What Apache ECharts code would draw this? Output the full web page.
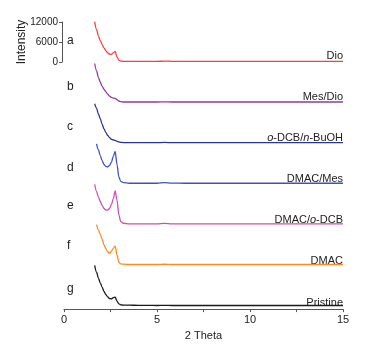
<!DOCTYPE html>
<html>
<head>
<meta charset="utf-8">
<script src="https://cdn.jsdelivr.net/npm/echarts@6/dist/echarts.min.js"></script>
<style>
  html, body { margin: 0; padding: 0; background: #fff; }
  #chart { width: 368px; height: 346px; }
</style>
</head>
<body>
<div id="chart"></div>
<script>
// 2 Theta positions shared by all patterns
const theta = [1.65, 1.75, 1.85, 1.95, 2.05, 2.15, 2.25, 2.35, 2.45, 2.55, 2.65, 2.75, 2.85, 2.95, 3.05, 3.2, 3.5, 4, 4.5, 5, 5.4, 5.8, 6.5, 8, 10, 12, 15];

// intensities (counts)
const dio      = [12400, 10000, 8000, 6600, 5400, 4400, 3500, 2900, 2500, 2400, 2900, 3300, 1600, 700, 400, 300, 300, 300, 300, 300, 380, 310, 300, 300, 300, 300, 300];
const mesDio   = [12000, 9800, 7800, 6300, 5100, 4200, 3400, 2700, 2100, 1700, 1500, 1400, 1000, 600, 400, 300, 300, 300, 300, 300, 350, 300, 300, 300, 300, 300, 300];
const odcbBuoh = [12100, 10800, 9000, 7600, 5900, 4500, 3400, 2500, 1800, 1300, 1100, 1000, 700, 500, 400, 300, 300, 300, 300, 300, 350, 300, 300, 300, 300, 300, 300];
const dmacMes  = [null, 12300, 10500, 8700, 7200, 6000, 5400, 5300, 5700, 6700, 8500, 10000, 6000, 2200, 900, 500, 300, 300, 300, 300, 480, 320, 300, 300, 300, 300, 300];
const dmacOdcb = [12300, 10200, 8500, 7100, 5900, 5000, 4500, 4500, 5000, 6200, 8000, 10300, 7500, 3000, 1000, 500, 300, 300, 300, 300, 450, 320, 300, 300, 300, 300, 300];
const dmac     = [null, 12400, 10800, 9500, 8000, 6300, 5100, 4100, 3700, 4400, 5200, 5900, 3200, 1000, 500, 400, 300, 300, 300, 300, 380, 300, 300, 300, 300, 300, 300];
const pristine = [12400, 10300, 8500, 7100, 5800, 4500, 3500, 2800, 2300, 2200, 2600, 2700, 1500, 700, 400, 300, 280, 250, 220, 200, 240, 200, 200, 200, 200, 200, 200];

const names   = ['Dio', 'Mes/Dio', '{i|o}-DCB/{i|n}-BuOH', 'DMAC/Mes', 'DMAC/{i|o}-DCB', 'DMAC', 'Pristine'];
const letters = ['a', 'b', 'c', 'd', 'e', 'f', 'g'];
const patterns = [dio, mesDio, odcbBuoh, dmacMes, dmacOdcb, dmac, pristine];
const offsets = [75000, 62650, 50300, 37950, 25600, 13250, 900];
const colors  = ['#ff3c3c', '#8c3b9f', '#2d3397', '#3c52c2', '#cb4fb7', '#ff8a22', '#1a1a1a'];

const FONT = 'Liberation Sans, Arial, sans-serif';
const chart = echarts.init(document.getElementById('chart'));

// grid geometry (px) used to place side texts
const gTop = 13, gH = 300, yMax = 90000;
const toPx = v => gTop + gH - v / yMax * gH;

const series = patterns.map((vals, i) => ({
    type: 'line',
    xAxisIndex: 0,
    yAxisIndex: 0,
    showSymbol: false,
    smooth: 0.3,
    smoothMonotone: 'x',
    lineStyle: { color: colors[i], width: 1.3 },
    data: theta.map((t, k) => vals[k] == null ? [t, null] : [t, vals[k] + offsets[i]])
}));

const graphic = [];
names.forEach((n, i) => {
    graphic.push({
        type: 'text',
        right: 25,
        top: toPx(offsets[i]) - 13,
        style: {
            text: n,
            font: '11px ' + FONT,
            fill: '#222',
            rich: { i: { fontStyle: 'italic', fontSize: 11, fontFamily: FONT } }
        }
    });
});
const letterY = [42, 88, 128, 169, 207, 247, 290];
letters.forEach((l, i) => {
    graphic.push({
        type: 'text',
        left: 67,
        top: letterY[i] - 7,
        style: { text: l, font: '12px ' + FONT, fill: '#222' }
    });
});

chart.setOption({
    animation: false,
    grid: [
        { left: 64, right: 25, top: gTop, height: gH },
        { left: 62, top: 22, height: 40, width: 10 }
    ],
    xAxis: [
        {
            type: 'value', gridIndex: 0, min: 0, max: 15, interval: 2.5,
            splitLine: { show: false },
            axisLine: { lineStyle: { color: '#555', width: 1.2 } },
            axisTick: { length: 3, lineStyle: { color: '#555' } },
            axisLabel: {
                color: '#222', fontSize: 11, fontFamily: FONT, margin: 5,
                formatter: v => (v % 5 === 0 ? String(v) : '')
            },
            name: '2 Theta', nameLocation: 'middle', nameGap: 18,
            nameTextStyle: { color: '#222', fontSize: 11, fontFamily: FONT }
        },
        { type: 'value', gridIndex: 1, min: 0, max: 1, show: false }
    ],
    yAxis: [
        { type: 'value', gridIndex: 0, min: 0, max: yMax, show: false },
        {
            type: 'value', gridIndex: 1, min: 0, max: 12000, interval: 6000,
            splitLine: { show: false },
            axisLine: { show: true, lineStyle: { color: '#555', width: 1 } },
            axisTick: { show: true, length: 3, lineStyle: { color: '#555' } },
            axisLabel: { color: '#222', fontSize: 10, fontFamily: FONT, margin: 4, formatter: v => String(v) },
            name: 'Intensity', nameLocation: 'middle', nameGap: 34, nameRotate: 90,
            nameMoveOverlap: false,
            nameTextStyle: { color: '#222', fontSize: 12, fontFamily: FONT }
        }
    ],
    series: series,
    graphic: graphic
});
</script>
</body>
</html>
